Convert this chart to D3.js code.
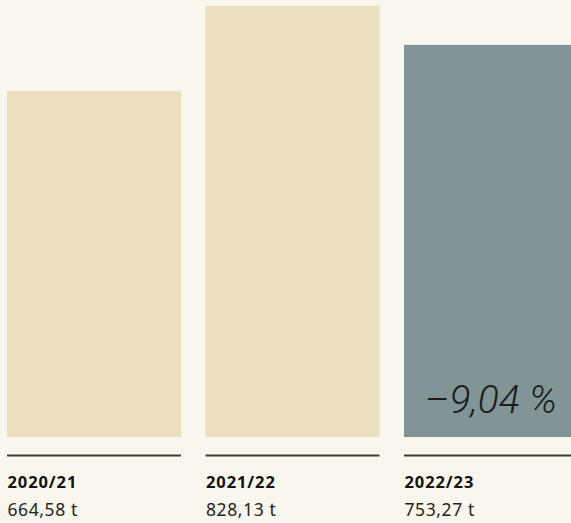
<!DOCTYPE html>
<html>
<head>
<meta charset="utf-8">
<script src="https://cdn.jsdelivr.net/npm/d3@7"></script>
<style>
  html, body { margin: 0; padding: 0; background: #f9f6ee; overflow: hidden; }
  svg { display: block; }
</style>
</head>
<body>
<div class="graph"></div>
<script>
var years = ['2020/21', '2021/22', '2022/23'];
var values = [664.58, 828.13, 753.27];
var valueLabels = ['664,58 t', '828,13 t', '753,27 t'];
var changeLabel = '\u20139,04 %';

var size = { width: 571, height: 523, base: 437 };

var svg = d3.select('.graph').append('svg')
  .attr('width', size.width)
  .attr('height', size.height);

// step 198.5, bar width 174
var xScale = d3.scaleBand().domain(years)
  .range([7, 7 + 198.5 * 3 - 24.5])
  .paddingInner(24.5 / 198.5)
  .paddingOuter(0)
  .align(0);

var yScale = d3.scaleLinear().domain([0, 830]).range([size.base, 5]);

var data = years.map(function(y, i) {
  return { year: y, value: values[i], label: valueLabels[i], last: i === years.length - 1 };
});

svg.selectAll('rect.bar').data(data).enter().append('rect')
  .attr('class', 'bar')
  .attr('x', function(d) { return xScale(d.year); })
  .attr('y', function(d) { return yScale(d.value); })
  .attr('width', xScale.bandwidth())
  .attr('height', function(d) { return yScale(0) - yScale(d.value); })
  .attr('fill', function(d) { return d.last ? '#819597' : '#ecdfc0'; });

svg.selectAll('line.rule').data(data).enter().append('line')
  .attr('class', 'rule')
  .attr('x1', function(d) { return xScale(d.year); })
  .attr('x2', function(d) { return xScale(d.year) + xScale.bandwidth(); })
  .attr('y1', 455.5)
  .attr('y2', 455.5)
  .attr('stroke', '#3c3c3c')
  .attr('stroke-width', 1.8);

svg.selectAll('text.year').data(data).enter().append('text')
  .attr('class', 'year')
  .attr('x', function(d) { return xScale(d.year) + 0.5; })
  .attr('y', 488)
  .attr('font-family', '"Noto Sans", sans-serif')
  .attr('font-weight', 700)
  .attr('font-size', 16.5)
  .attr('letter-spacing', 0.9)
  .attr('fill', '#111')
  .text(function(d) { return d.year; });

svg.selectAll('text.val').data(data).enter().append('text')
  .attr('class', 'val')
  .attr('x', function(d) { return xScale(d.year) + 0.5; })
  .attr('y', 516)
  .attr('font-family', '"Noto Sans", sans-serif')
  .attr('font-size', 17.5)
  .attr('letter-spacing', 0.6)
  .attr('fill', '#222')
  .text(function(d) { return d.label; });

svg.append('text')
  .attr('x', 557)
  .attr('y', 413)
  .attr('text-anchor', 'end')
  .attr('font-family', 'Roboto, sans-serif')
  .attr('font-style', 'italic')
  .attr('font-weight', 300)
  .attr('font-size', 39)
  .attr('fill', '#1c1c1c')
  .text(changeLabel);
</script>
</body>
</html>
